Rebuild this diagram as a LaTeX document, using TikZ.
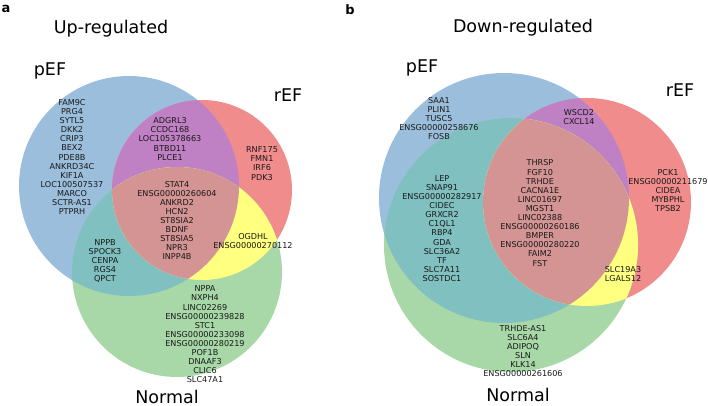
\documentclass[tikz,border=0pt]{standalone}
\usepackage{fontspec}
\setmainfont{DejaVu Sans}
\definecolor{cA}{HTML}{9BBEDC}
\definecolor{cB}{HTML}{F08C8C}
\definecolor{cC}{HTML}{A8D8A8}
\definecolor{cAB}{HTML}{C080C4}
\definecolor{cAC}{HTML}{80C0C0}
\definecolor{cBC}{HTML}{FFFF80}
\definecolor{cABC}{HTML}{D49494}
\begin{document}
\begin{tikzpicture}[x=1pt,y=-1pt,
  genes/.style={font=\fontsize{8.1}{9.1}\selectfont, align=center, inner sep=0pt, text=black!90},
  setlabel/.style={font=\fontsize{17.5}{20}\selectfont, inner sep=0pt},
  paneltag/.style={font=\fontsize{13}{15}\selectfont\bfseries, inner sep=0pt}]
\useasboundingbox (0,0) rectangle (708,406);
% ---------- panel a ----------
\def\Ax{129}\def\Ay{186}\def\Ar{110}
\def\Bx{202}\def\By{190}\def\Br{90}
\def\Cx{177}\def\Cy{272}\def\Cr{105}
\fill[cA] (\Ax,\Ay) circle[radius=\Ar];
\fill[cB] (\Bx,\By) circle[radius=\Br];
\fill[cC] (\Cx,\Cy) circle[radius=\Cr];
\begin{scope}\clip (\Ax,\Ay) circle[radius=\Ar]; \fill[cAB] (\Bx,\By) circle[radius=\Br];\end{scope}
\begin{scope}\clip (\Ax,\Ay) circle[radius=\Ar]; \fill[cAC] (\Cx,\Cy) circle[radius=\Cr];\end{scope}
\begin{scope}\clip (\Bx,\By) circle[radius=\Br]; \fill[cBC] (\Cx,\Cy) circle[radius=\Cr];\end{scope}
\begin{scope}\clip (\Ax,\Ay) circle[radius=\Ar]; \clip (\Bx,\By) circle[radius=\Br]; \fill[cABC] (\Cx,\Cy) circle[radius=\Cr];\end{scope}
\node[paneltag] (tagA) at (6,9) {a};
\node[setlabel] (titleA) at (111,29) {Up-regulated};
\node[setlabel] (pA) at (50,71) {pEF};
\node[setlabel] (rA) at (288,95) {rEF};
\node[setlabel] (nA) at (167,396.5) {Normal};
\node[genes] (a1) at (72,157) {FAM9C\\PRG4\\SYTL5\\DKK2\\CRIP3\\BEX2\\PDE8B\\ANKRD34C\\KIF1A\\LOC100507537\\MARCO\\SCTR-AS1\\PTPRH};
\node[genes] (a2) at (170,139) {ADGRL3\\CCDC168\\LOC105378663\\BTBD11\\PLCE1};
\node[genes] (a3) at (262,163.5) {RNF175\\FMN1\\IRF6\\PDK3};
\node[genes] (a4) at (177,220.5) {STAT4\\ENSG00000260604\\ANKRD2\\HCN2\\ST8SIA2\\BDNF\\ST8SIA5\\NPR3\\INPP4B};
\node[genes] (a5) at (105,261) {NPPB\\SPOCK3\\CENPA\\RGS4\\QPCT};
\node[genes] (a6) at (253,241) {OGDHL\\ENSG00000270112};
\node[genes] (a7) at (205,334.5) {NPPA\\NXPH4\\LINC02269\\ENSG00000239828\\STC1\\ENSG00000233098\\ENSG00000280219\\POF1B\\DNAAF3\\CLIC6\\SLC47A1};
% ---------- panel b ----------
\def\Ax{504}\def\Ay{198}\def\Ar{125}
\def\Bx{587}\def\By{202}\def\Br{104}
\def\Cx{511}\def\Cy{245}\def\Cr{127}
\fill[cA] (\Ax,\Ay) circle[radius=\Ar];
\fill[cB] (\Bx,\By) circle[radius=\Br];
\fill[cC] (\Cx,\Cy) circle[radius=\Cr];
\begin{scope}\clip (\Ax,\Ay) circle[radius=\Ar]; \fill[cAB] (\Bx,\By) circle[radius=\Br];\end{scope}
\begin{scope}\clip (\Ax,\Ay) circle[radius=\Ar]; \fill[cAC] (\Cx,\Cy) circle[radius=\Cr];\end{scope}
\begin{scope}\clip (\Bx,\By) circle[radius=\Br]; \fill[cBC] (\Cx,\Cy) circle[radius=\Cr];\end{scope}
\begin{scope}\clip (\Ax,\Ay) circle[radius=\Ar]; \clip (\Bx,\By) circle[radius=\Br]; \fill[cABC] (\Cx,\Cy) circle[radius=\Cr];\end{scope}
\node[paneltag] (tagB) at (350,10) {b};
\node[setlabel] (titleB) at (523,28) {Down-regulated};
\node[setlabel] (pB) at (422,68) {pEF};
\node[setlabel] (rB) at (680,90) {rEF};
\node[setlabel] (nB) at (518,394.5) {Normal};
\node[genes] (b1) at (439,118.5) {SAA1\\PLIN1\\TUSC5\\ENSG00000258676\\FOSB};
\node[genes] (b2) at (579,117.5) {WSCD2\\CXCL14};
\node[genes] (b3) at (668,190.5) {PCK1\\ENSG00000211679\\CIDEA\\MYBPHL\\TPSB2};
\node[genes] (b4) at (540,213) {THRSP\\FGF10\\TRHDE\\CACNA1E\\LINC01697\\MGST1\\LINC02388\\ENSG00000260186\\BMPER\\ENSG00000280220\\FAIM2\\FST};
\node[genes] (b5) at (442,228.5) {LEP\\SNAP91\\ENSG00000282917\\CIDEC\\GRXCR2\\C1QL1\\RBP4\\GDA\\SLC36A2\\TF\\SLC7A11\\SOSTDC1};
\node[genes] (b6) at (623,274) {SLC19A3\\LGALS12};
\node[genes] (b7) at (523,351) {TRHDE-AS1\\SLC6A4\\ADIPOQ\\SLN\\KLK14\\ENSG00000261606};
\end{tikzpicture}
\end{document}
